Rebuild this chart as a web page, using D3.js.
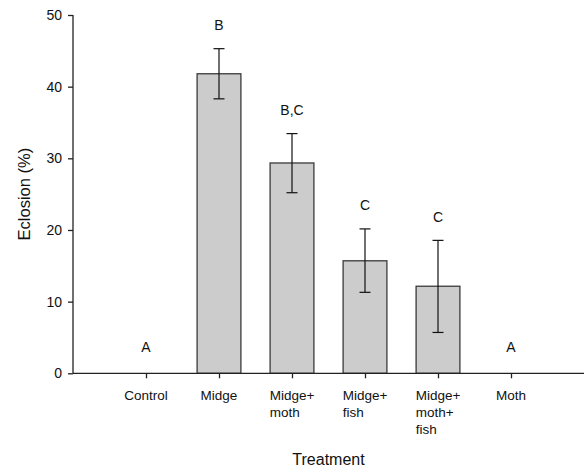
<!DOCTYPE html>
<html>
<head>
<meta charset="utf-8">
<title>Eclosion</title>
<script src="https://cdn.jsdelivr.net/npm/d3@7"></script>
<style>
  body { margin: 0; background: #fff; }
  svg text { font-family: "Liberation Sans", Arial, sans-serif; fill: #111; }
</style>
</head>
<body>
<div id="chart"></div>
<script>
// data
var treatments = [["Control"], ["Midge"], ["Midge+", "moth"], ["Midge+", "fish"], ["Midge+", "moth+", "fish"], ["Moth"]];
var means   = [0, 41.8, 29.35, 15.7, 12.15, 0];
var errLow  = [0, 38.3, 25.2, 11.3, 5.7, 0];
var errHigh = [0, 45.3, 33.45, 20.15, 18.55, 0];
var letters = ["A", "B", "B,C", "C", "C", "A"];
var yTicks  = [0, 10, 20, 30, 40, 50];

var W = 584, H = 468;
var svg = d3.select("#chart").append("svg")
  .attr("width", W).attr("height", H);

// x: categories sit at 1..6 on a 0..7 axis
var x = d3.scaleLinear().domain([0, 7]).range([73, 584]);
var y = d3.scaleLinear().domain([0, 50]).range([373.3, 15]);
var band = (x(1) - x(0)) * 0.6;

// bars
svg.selectAll("rect.bar")
  .data(means.map(function(m, i) { return {m: m, i: i}; }).filter(function(d) { return d.m > 0; }))
  .enter().append("rect")
  .attr("class", "bar")
  .attr("x", function(d) { return x(d.i + 1) - band / 2; })
  .attr("width", band)
  .attr("y", function(d) { return y(d.m); })
  .attr("height", function(d) { return y(0) - y(d.m); })
  .attr("fill", "#cccccc")
  .attr("stroke", "#3a3a3a")
  .attr("stroke-width", 1.3);

// error bars
var cap = 5.5;
means.forEach(function(m, i) {
  if (m <= 0) return;
  var cx = x(i + 1);
  var g = svg.append("g").attr("stroke", "#111").attr("stroke-width", 1.2);
  g.append("line").attr("x1", cx).attr("x2", cx).attr("y1", y(errLow[i])).attr("y2", y(errHigh[i]));
  g.append("line").attr("x1", cx - cap).attr("x2", cx + cap).attr("y1", y(errHigh[i])).attr("y2", y(errHigh[i]));
  g.append("line").attr("x1", cx - cap).attr("x2", cx + cap).attr("y1", y(errLow[i])).attr("y2", y(errLow[i]));
});

// significance letters
svg.selectAll("text.letter")
  .data(letters)
  .enter().append("text")
  .attr("class", "letter")
  .attr("x", function(d, i) { return x(i + 1); })
  .attr("y", function(d, i) { return y(errHigh[i]) - (means[i] > 0 ? 18.5 : 21.6); })
  .attr("text-anchor", "middle")
  .style("font-size", "14px")
  .text(function(d) { return d; });

// y axis
var yAxis = svg.append("g")
  .attr("transform", "translate(73,0)")
  .call(d3.axisLeft(y).tickValues(yTicks).tickSize(5).tickPadding(6));
yAxis.selectAll("text").style("font-size", "14px").attr("fill", "#111");
yAxis.selectAll("line, path").attr("stroke", "#222").attr("stroke-width", 1.3);
yAxis.select(".domain").attr("d", "M0," + y(50) + "V" + y(0));

// x axis
var xAxis = svg.append("g")
  .attr("transform", "translate(0," + y(0) + ")")
  .call(d3.axisBottom(x).tickValues(d3.range(1, 7)).tickSize(5).tickFormat(""));
xAxis.selectAll("line, path").attr("stroke", "#222").attr("stroke-width", 1.3);
xAxis.select(".domain").attr("d", "M73,0H584");

// category labels: first line centred on tick, later lines left-aligned with it
treatments.forEach(function(lines, i) {
  var cx = x(i + 1);
  var first = svg.append("text")
    .attr("x", cx).attr("y", 400)
    .attr("text-anchor", "middle")
    .style("font-size", "13.5px")
    .text(lines[0]);
  var left = cx - first.node().getComputedTextLength() / 2;
  lines.slice(1).forEach(function(t, k) {
    svg.append("text")
      .attr("x", left).attr("y", 400 + 17 * (k + 1))
      .style("font-size", "13.5px")
      .text(t);
  });
});

// axis titles
svg.append("text")
  .attr("x", (73 + 584) / 2).attr("y", 465)
  .attr("text-anchor", "middle")
  .style("font-size", "16px")
  .text("Treatment");

svg.append("text")
  .attr("transform", "translate(30," + ((y(0) + y(50)) / 2) + ") rotate(-90)")
  .attr("text-anchor", "middle")
  .style("font-size", "16.5px")
  .text("Eclosion (%)");
</script>
</body>
</html>
